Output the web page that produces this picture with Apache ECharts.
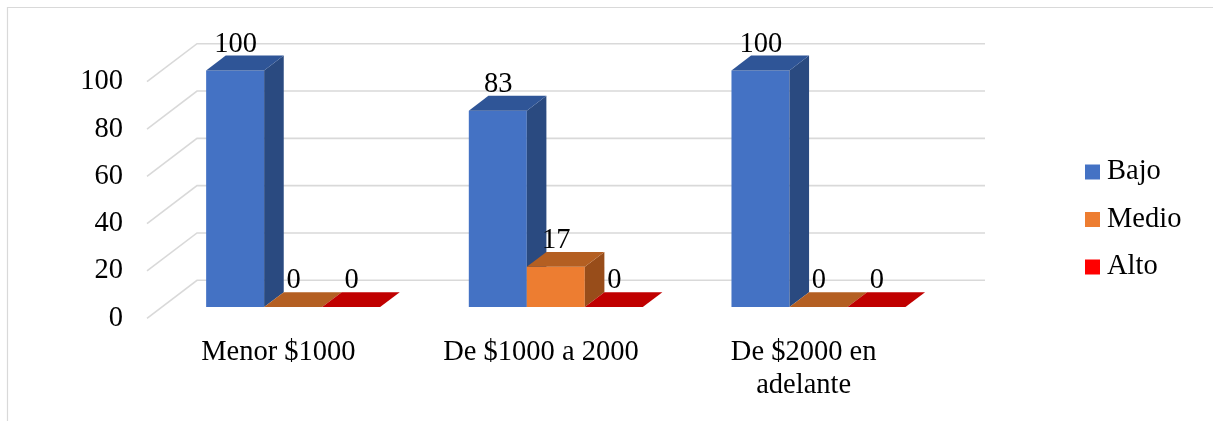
<!DOCTYPE html>
<html>
<head>
<meta charset="utf-8">
<script src="https://cdn.jsdelivr.net/npm/echarts@6/dist/echarts.min.js"></script>
<style>
  html, body { margin: 0; padding: 0; background: #fff; }
  #chart { width: 1213px; height: 421px; }
</style>
</head>
<body>
<div id="chart"></div>
<script>
// Income brackets and level shares (%)
const categories = ['Menor $1000', 'De $1000 a 2000', 'De $2000 en\nadelante'];
const seriesNames = ['Bajo', 'Medio', 'Alto'];
const bajo = [100, 83, 100];
const medio = [0, 17, 0];
const alto = [0, 0, 0];
const yTicks = [0, 20, 40, 60, 80, 100];

// Face shades per series: front, top, side
const shades = [
  { front: '#4472C4', top: '#2F5597', side: '#2A4A80' },
  { front: '#ED7D31', top: '#B45F22', side: '#984D1A' },
  { front: '#FF0000', top: '#C00000', side: '#A00000' }
];

// Oblique depth of the plot box (pixels from front plane to back wall)
const DX = 50, DY = -38;
// Bars sit between these depth fractions
const F0 = 0.295, F1 = 0.687;
// Horizontal layout inside a category band
const SIDE_GAP = 0.169, BAR_FRAC = 0.2208;
const FONT = 'Liberation Serif, Times New Roman, serif';
const FS = 28.5;

function barSeries(idx, values) {
  const c = shades[idx];
  return {
    name: seriesNames[idx],
    type: 'custom',
    clip: false,
    silent: true,
    itemStyle: { color: c.front },
    data: values.map((v, i) => [i, v]),
    renderItem(params, api) {
      const cat = api.value(0), val = api.value(1);
      const base = api.coord([cat, 0]);
      const topP = api.coord([cat, val]);
      const bandW = api.size([1, 0])[0];
      const barW = bandW * BAR_FRAC;
      const x0 = base[0] - bandW / 2 + bandW * SIDE_GAP + idx * barW + DX * F0;
      const x1 = x0 + barW;
      const yb = base[1] + DY * F0;
      const yt = topP[1] + DY * F0;
      const dx = DX * (F1 - F0), dy = DY * (F1 - F0);
      const children = [];
      if (yb - yt > 0.5) {
        children.push({ type: 'rect', shape: { x: x0, y: yt, width: barW, height: yb - yt }, style: { fill: c.front } });
        children.push({ type: 'polygon', shape: { points: [[x1, yt], [x1 + dx, yt + dy], [x1 + dx, yb + dy], [x1, yb]] }, style: { fill: c.side } });
      }
      children.push({ type: 'polygon', shape: { points: [[x0, yt], [x0 + dx, yt + dy], [x1 + dx, yt + dy], [x1, yt]] }, style: { fill: c.top } });
      children.push({
        type: 'text',
        style: {
          text: String(val), x: (x0 + x1) / 2 + 0.5, y: yt + dy - 11.5,
          fill: '#000', fontSize: FS, fontFamily: FONT,
          align: 'center', verticalAlign: 'middle'
        }
      });
      return { type: 'group', children };
    }
  };
}

const gridSeries = {
  name: 'grid-lines',
  type: 'custom',
  clip: false,
  silent: true,
  data: yTicks.map(v => [0, v]),
  renderItem(params, api) {
    const cs = params.coordSys;
    const y = api.coord([0, api.value(1)])[1];
    return {
      type: 'polyline',
      shape: { points: [[cs.x, y], [cs.x + DX, y + DY], [cs.x + cs.width + DX, y + DY]] },
      style: { stroke: '#D9D9D9', lineWidth: 1.6, fill: null }
    };
  }
};

const chart = echarts.init(document.getElementById('chart'), null, { renderer: 'canvas' });
chart.setOption({
  backgroundColor: '#fff',
  animation: false,
  graphic: [{
    type: 'rect', silent: true, z: -10,
    shape: { x: 7.5, y: 7.5, width: 1400, height: 600 },
    style: { fill: null, stroke: '#D9D9D9', lineWidth: 1.2 }
  }],
  grid: { left: 147, right: 278, top: 81.7, bottom: 102.7, containLabel: false, outerBoundsMode: 'none' },
  legend: {
    orient: 'vertical',
    left: 1085, top: 157,
    padding: 0,
    data: seriesNames,
    icon: 'rect', itemWidth: 15, itemHeight: 15, itemGap: 17.5,
    textStyle: { fontSize: FS, fontFamily: FONT, color: '#000', lineHeight: 30, padding: [0, 0, 0, 2] }
  },
  xAxis: {
    type: 'category',
    data: categories,
    axisLine: { show: false }, axisTick: { show: false }, splitLine: { show: false },
    axisLabel: { interval: 0, margin: 18, fontSize: FS, lineHeight: 33, fontFamily: FONT, color: '#000' }
  },
  yAxis: {
    type: 'value', min: 0, max: 100, interval: 20,
    axisLine: { show: false }, axisTick: { show: false }, splitLine: { show: false },
    axisLabel: { margin: 24, fontSize: FS, fontFamily: FONT, color: '#000' }
  },
  series: [gridSeries, barSeries(0, bajo), barSeries(1, medio), barSeries(2, alto)]
});
</script>
</body>
</html>
